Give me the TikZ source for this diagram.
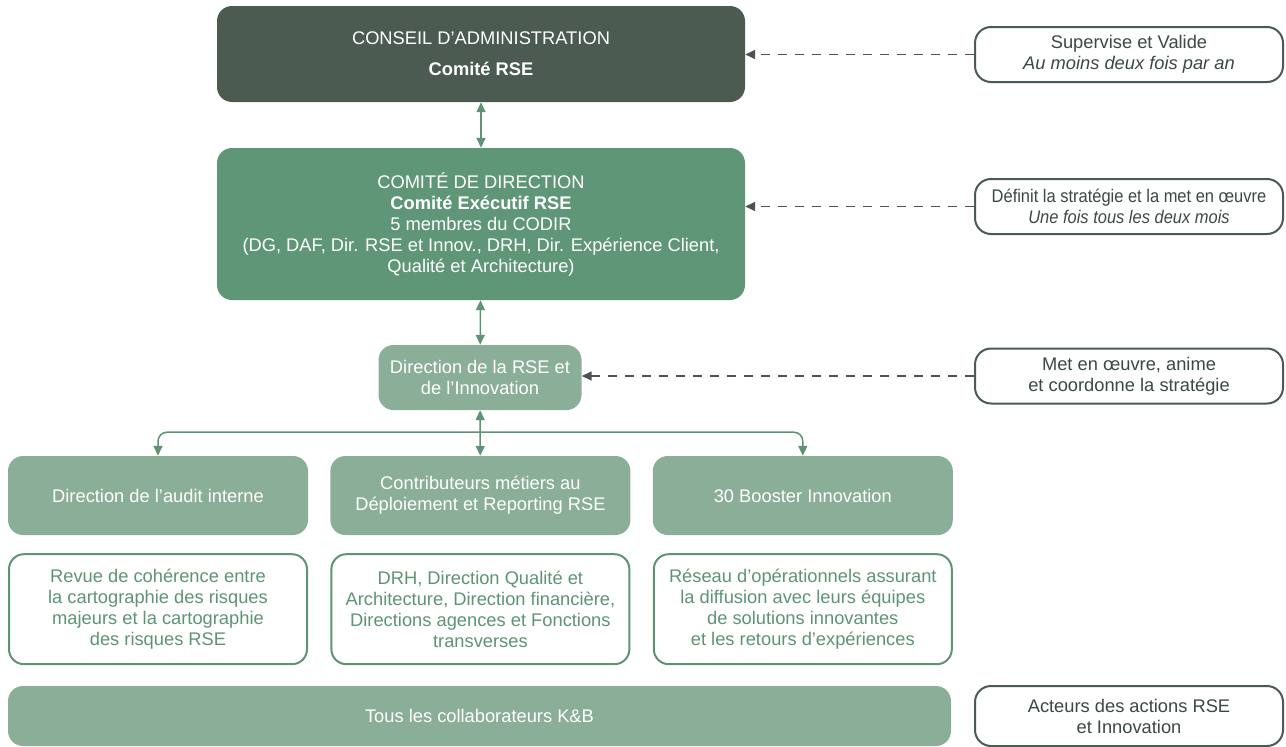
\documentclass[tikz,border=0pt]{standalone}
\usepackage{fontspec}
\usepackage{graphicx}
\setmainfont{Liberation Sans}
\usetikzlibrary{positioning,arrows.meta}

\definecolor{kbdark}{RGB}{75,91,82}
\definecolor{kbmid}{RGB}{94,150,119}
\definecolor{kblight}{RGB}{138,174,151}
\definecolor{kbline}{RGB}{94,148,116}
\definecolor{kbgray}{RGB}{78,82,80}

\begin{document}
\begin{tikzpicture}[
      x=1pt, y=-1pt,
      font=\fontsize{18.3}{21}\selectfont,
      every node/.style={align=center, inner sep=0pt},
      board/.style={fill=kbdark, text=white, rounded corners=15pt, minimum width=528pt},
      codir/.style={fill=kbmid, text=white, rounded corners=15pt, minimum width=528pt},
      unit/.style={fill=kblight, text=white, rounded corners=15pt},
      desc/.style={draw=kbline, line width=2pt, fill=white, text=kbline,
                   rounded corners=15pt, minimum width=298pt, minimum height=110pt},
      role/.style={draw=kbdark, line width=2pt, fill=white, text=kbdark!80!black,
                   rounded corners=16pt, minimum width=308pt},
      link/.style={{Triangle[length=10pt,width=9pt]}-{Triangle[length=10pt,width=9pt]},
                   kbline, line width=1.5pt},
      down/.style={-{Triangle[length=10pt,width=9pt]}, kbline, line width=1.5pt,
                   rounded corners=9pt},
      note/.style={-{Triangle[length=10pt,width=9pt]}, kbgray, line width=1.5pt,
                   dash pattern=on 9pt off 8pt},
    ]
    \useasboundingbox (0,0) rectangle (1286,747);
    % governance chain
    \node[board, minimum height=96pt] (ca) at (481,54)
      {CONSEIL D’ADMINISTRATION\\[10pt]\textbf{Comité RSE}};
    \node[codir, minimum height=152pt] (codir) at (481,224)
      {COMITÉ DE DIRECTION\\\textbf{Comité Exécutif RSE}\\5 membres du CODIR\\
       (DG, DAF, Dir. RSE et Innov., DRH, Dir. Expérience Client,\\Qualité et Architecture)};
    \node[unit, minimum width=203pt, minimum height=65pt] (rse) at (480,377.5)
      {Direction de la RSE et\\de l’Innovation};
    % three operational units
    \node[unit, minimum width=300pt, minimum height=79pt] (audit) at (158,495.5)
      {Direction de l’audit interne};
    \node[unit, minimum width=300pt, minimum height=79pt, right=22pt of audit] (contrib)
      {Contributeurs métiers au\\Déploiement et Reporting RSE};
    \node[unit, minimum width=300pt, minimum height=79pt, right=22pt of contrib] (booster)
      {30 Booster Innovation};
    % what each unit covers
    \node[desc, below=18pt of audit] (auditd)
      {Revue de cohérence entre\\la cartographie des risques\\majeurs et la cartographie\\des risques RSE};
    \node[desc, below=18pt of contrib] (contribd)
      {DRH, Direction Qualité et\\Architecture, Direction financière,\\Directions agences et Fonctions\\transverses};
    \node[desc, below=18pt of booster] (boosterd)
      {Réseau d’opérationnels assurant\\la diffusion avec leurs équipes\\de solutions innovantes\\et les retours d’expériences};
    \node[unit, minimum width=943pt, minimum height=60pt] (staff) at (479.5,716)
      {Tous les collaborateurs K\&B};
    % roles on the right
    \node[role, minimum height=55pt] (supervise) at (1129,54.5)
      {Supervise et Valide\\\textit{Au moins deux fois par an}};
    \node[role, minimum height=55pt] (define) at (1129,206.5)
      {\scalebox{0.9}[1]{Définit la stratégie et la met en œuvre}\\
       \scalebox{0.9}[1]{\textit{Une fois tous les deux mois}}};
    \node[role, minimum height=55pt] (animate) at (1129,376)
      {Met en œuvre, anime\\et coordonne la stratégie};
    \node[role, minimum height=60pt] (actors) at (1129,716)
      {Acteurs des actions RSE\\et Innovation};
    % connectors
    \draw[link] (ca) -- (codir);
    \draw[link] (codir) -- (rse);
    \draw[link] (rse) -- (contrib);
    \coordinate[below=22pt of rse] (fork);
    \draw[down] (fork) -| (audit.north);
    \draw[down] (fork) -| (booster.north);
    \foreach \r/\t in {supervise/ca,define/codir,animate/rse}{
      \draw[note] (\r.west) -- (\r.west -| \t.east);
    }
  \end{tikzpicture}
\end{document}
